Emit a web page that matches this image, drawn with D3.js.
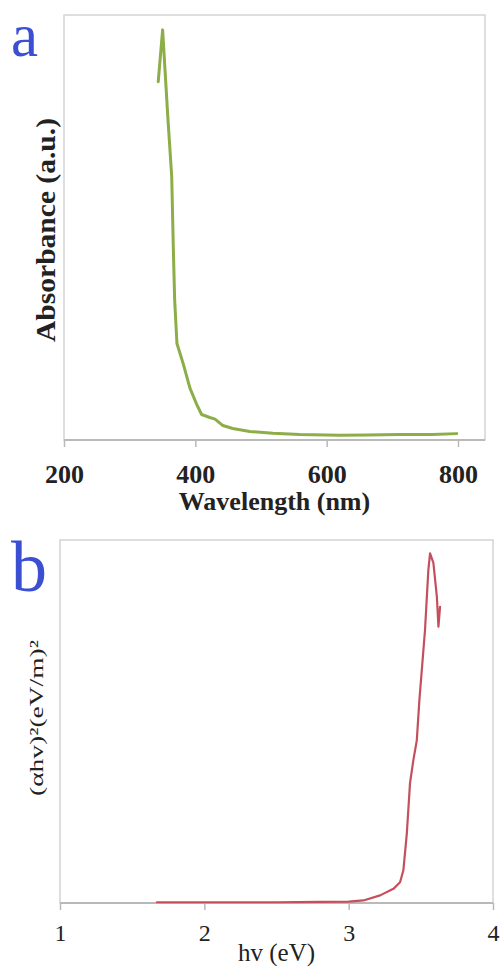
<!DOCTYPE html>
<html>
<head>
<meta charset="utf-8">
<script src="https://cdn.jsdelivr.net/npm/d3@7"></script>
<style>
  html, body { margin: 0; padding: 0; background: #fff; }
  svg { display: block; }
  .tick line, .domain { stroke: #b9b9b9; }
</style>
</head>
<body>
<svg id="chart" width="503" height="966"></svg>
<script>
'use strict';

const serif = "'Liberation Serif', 'Times New Roman', serif";

// panel a: UV-vis absorbance spectrum
const wavelength = [343.5, 350.2, 353.7, 358.3, 364, 366.5, 368.5, 372, 381.6, 391.8, 402, 409.6,
  422, 430, 442, 457, 483, 518, 559, 620, 661, 711, 760, 798];
const absorbance = [0.843, 0.965, 0.874, 0.755, 0.621, 0.45, 0.33, 0.227, 0.179, 0.122, 0.084, 0.06,
  0.053, 0.049, 0.034, 0.027, 0.02, 0.016, 0.013, 0.011, 0.012, 0.013, 0.013, 0.015];
const wavelengthTicks = [200, 400, 600, 800];

// panel b: Tauc plot
const photonEnergy = [1.672, 2.0, 2.5, 2.8, 3.0, 3.102, 3.218, 3.31, 3.356, 3.379, 3.403, 3.425,
  3.448, 3.472, 3.49, 3.529, 3.552, 3.564, 3.587, 3.611, 3.622, 3.633];
const tauc = [0.002, 0.002, 0.002, 0.003, 0.004, 0.007, 0.021, 0.039, 0.057, 0.09, 0.192, 0.33,
  0.393, 0.448, 0.559, 0.752, 0.917, 0.963, 0.937, 0.844, 0.761, 0.816];
const energyTicks = [1, 2, 3, 4];

const svg = d3.select('#chart');

// one panel = box + bottom axis + curve + labels
const drawPanel = function (p) {
  const x = d3.scaleLinear().domain(p.xDomain).range([p.left, p.tickRight]);
  const y = d3.scaleLinear().domain([0, 1]).range([p.bottom, p.top]);
  const g = svg.append('g');

  g.append('rect')
    .attr('x', p.left)
    .attr('y', p.top)
    .attr('width', p.right - p.left)
    .attr('height', p.bottom - p.top)
    .attr('fill', 'none')
    .attr('stroke', '#d4d4d4')
    .attr('stroke-width', 1.5);

  const axis = g.append('g')
    .attr('transform', `translate(0,${p.bottom})`)
    .call(d3.axisBottom(x).tickValues(p.ticks).tickSize(7).tickSizeOuter(0).tickFormat(d3.format('d')));
  axis.select('.domain').attr('d', `M${p.left},0H${p.right}`).attr('stroke-width', 2);
  axis.selectAll('.tick line').attr('stroke-width', 1.5);
  axis.selectAll('.tick text')
    .attr('y', p.tickBase)
    .attr('dy', 0)
    .attr('fill', '#222')
    .style('font-family', serif)
    .attr('font-size', p.tickSize)
    .attr('font-weight', p.weight);

  g.append('path')
    .datum(p.xs.map((v, i) => [v, p.ys[i]]))
    .attr('fill', 'none')
    .attr('stroke', p.color)
    .attr('stroke-width', p.lineWidth)
    .attr('stroke-linejoin', 'round')
    .attr('stroke-linecap', 'round')
    .attr('d', d3.line().x((d) => x(d[0])).y((d) => y(d[1])));

  g.append('text')
    .attr('x', (p.left + p.right) / 2)
    .attr('y', p.xLabelBase)
    .attr('text-anchor', 'middle')
    .attr('fill', '#222')
    .style('font-family', serif)
    .attr('font-size', p.xLabelSize)
    .attr('font-weight', p.weight)
    .text(p.xLabel);

  g.append('text')
    .attr('transform', `translate(${p.yLabelX},${p.yLabelY}) rotate(-90)`)
    .attr('text-anchor', 'middle')
    .attr('dy', '0.35em')
    .attr('fill', '#222')
    .style('font-family', serif)
    .attr('font-size', p.yLabelSize)
    .attr('font-weight', p.weight)
    .attr('textLength', p.yLabelLength)
    .attr('lengthAdjust', 'spacingAndGlyphs')
    .text(p.yLabel);

  g.append('text')
    .attr('x', 11)
    .attr('y', p.letterBase)
    .attr('fill', '#3a4fd2')
    .style('font-family', serif)
    .attr('font-size', p.letterSize)
    .text(p.letter);
};

drawPanel({
  letter: 'a', letterBase: 56, letterSize: 61,
  xs: wavelength, ys: absorbance, xDomain: [200, 800], ticks: wavelengthTicks,
  left: 64, tickRight: 458, right: 485, top: 15, bottom: 440,
  tickBase: 43, tickSize: 26, xLabel: 'Wavelength (nm)', xLabelBase: 510, xLabelSize: 26,
  yLabel: 'Absorbance (a.u.)', yLabelX: 45, yLabelY: 230, yLabelSize: 28, yLabelLength: 224,
  weight: 'bold', color: '#8cad47', lineWidth: 3,
});

drawPanel({
  letter: 'b', letterBase: 591, letterSize: 72,
  xs: photonEnergy, ys: tauc, xDomain: [1, 4], ticks: energyTicks,
  left: 60, tickRight: 493, right: 493, top: 540, bottom: 903,
  tickBase: 38, tickSize: 24, xLabel: 'hv (eV)', xLabelBase: 961, xLabelSize: 25,
  yLabel: '(αhv)²(eV/m)²', yLabelX: 36, yLabelY: 718, yLabelSize: 19, yLabelLength: 156,
  weight: 'normal', color: '#c4505d', lineWidth: 2.2,
});
</script>
</body>
</html>
